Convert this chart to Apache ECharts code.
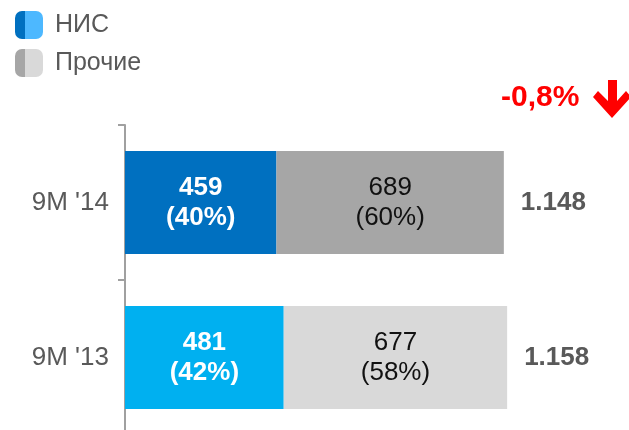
<!DOCTYPE html>
<html>
<head>
    <meta charset="utf-8">
    <title>НИС</title>
    <script src="https://cdn.jsdelivr.net/npm/echarts@6/dist/echarts.min.js"></script>
</head>
<body style="margin:0">
    <div id="main" style="width: 629px;height:430px;"></div>
    <script type="text/javascript">
        // данные (снизу вверх)
        var periods = ['9M \'13', '9M \'14'];
        var nis = [481, 459];
        var nisPct = [42, 40];
        var other = [677, 689];
        var otherPct = [58, 60];
        var totals = [1158, 1148];
        var change = '-0,8%';

        var nisColors = ['#00B0F0', '#0070C0'];
        var otherColors = ['#D9D9D9', '#A6A6A6'];

        function fmt(v) {
            return String(v).replace(/\B(?=(\d{3})+(?!\d))/g, '.');
        }

        function twoTone(a, b) {
            return new echarts.graphic.LinearGradient(0, 0, 1, 0, [
                {offset: 0, color: a}, {offset: 0.36, color: a},
                {offset: 0.36, color: b}, {offset: 1, color: b}
            ]);
        }

        var myChart = echarts.init(document.getElementById('main'));

        var option = {
            animation: false,
            textStyle: {fontFamily: 'Liberation Sans, Arial, sans-serif'},
            legend: {
                orient: 'vertical',
                left: 10,
                top: 6,
                itemWidth: 28,
                itemHeight: 28,
                itemGap: 10,
                icon: 'roundRect',
                textStyle: {fontSize: 25, color: '#595959', padding: [4, 0, 0, 7]},
                data: [
                    {name: 'НИС', itemStyle: {color: twoTone('#0070C0', '#4DB8FF')}},
                    {name: 'Прочие', itemStyle: {color: twoTone('#A6A6A6', '#D9D9D9')}}
                ]
            },
            grid: {left: 125, top: 125, right: 42, height: 310, outerBoundsMode: 'none'},
            xAxis: {type: 'value', min: 0, max: 1400, show: false},
            yAxis: {
                type: 'category',
                data: periods,
                axisLine: {lineStyle: {color: '#A0A0A0', width: 2}},
                axisTick: {show: true, length: 7, lineStyle: {color: '#A0A0A0', width: 2}},
                axisLabel: {fontSize: 26, color: '#595959', margin: 16}
            },
            series: [
                {
                    name: 'НИС',
                    type: 'bar',
                    stack: 'a',
                    barWidth: 103,
                    itemStyle: {color: '#0070C0'},
                    data: nis.map(function (v, i) {
                        return {value: v, itemStyle: {color: nisColors[i]}};
                    }),
                    label: {
                        show: true,
                        position: 'inside',
                        color: '#fff',
                        fontWeight: 'bold',
                        fontSize: 26,
                        lineHeight: 30,
                        formatter: function (p) {
                            return p.value + '\n(' + nisPct[p.dataIndex] + '%)';
                        }
                    }
                },
                {
                    name: 'Прочие',
                    type: 'bar',
                    stack: 'a',
                    barWidth: 103,
                    itemStyle: {color: '#A6A6A6'},
                    data: other.map(function (v, i) {
                        return {value: v, itemStyle: {color: otherColors[i]}};
                    }),
                    label: {
                        show: true,
                        position: 'inside',
                        color: '#111',
                        fontSize: 26,
                        lineHeight: 30,
                        formatter: function (p) {
                            return p.value + '\n(' + otherPct[p.dataIndex] + '%)';
                        }
                    }
                },
                {
                    name: 'total',
                    type: 'bar',
                    stack: 'a',
                    barWidth: 103,
                    data: totals.map(function () { return 0; }),
                    label: {
                        show: true,
                        position: 'right',
                        distance: 17,
                        color: '#595959',
                        fontWeight: 'bold',
                        fontSize: 26,
                        formatter: function (p) {
                            return fmt(totals[p.dataIndex]);
                        }
                    }
                }
            ],
            graphic: [
                {
                    type: 'text',
                    left: 501,
                    top: 83,
                    style: {
                        text: change,
                        fill: '#FF0000',
                        font: 'bold 30px "Liberation Sans", Arial, sans-serif'
                    }
                },
                {
                    type: 'polygon',
                    shape: {
                        points: [[608, 80], [617, 80], [617, 101], [626, 91], [631, 97],
                                 [612, 118], [593, 97], [598, 91], [608, 101]]
                    },
                    style: {fill: '#FF0000'}
                }
            ]
        };

        myChart.setOption(option);
    </script>
</body>
</html>
